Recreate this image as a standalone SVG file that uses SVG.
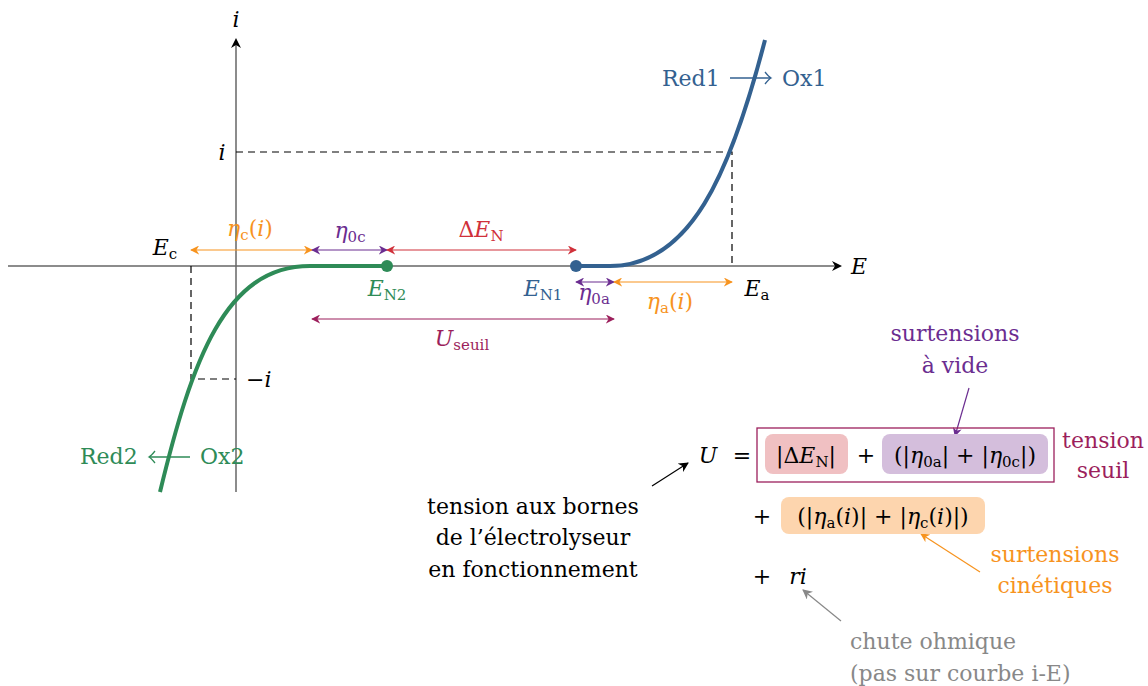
<svg xmlns="http://www.w3.org/2000/svg" width="1148" height="686" viewBox="0 0 1148 686">
<style>
.t{font-family:"DejaVu Serif","Liberation Serif",serif;font-size:22px}
.it{font-style:italic}
.sub{font-size:15px}
.axis{stroke:#666;stroke-width:1.5;fill:none}
.dash{stroke:#000;stroke-width:1.2;stroke-dasharray:7 5;fill:none}
.ann{stroke-width:1.2;fill:none}
</style>
<defs>
<marker id="mAx" viewBox="0 0 10 10" refX="8" refY="5" markerWidth="10" markerHeight="10" markerUnits="userSpaceOnUse" orient="auto-start-reverse"><path d="M0,0 L10,5 L0,10 L3,5 z" fill="#000"/></marker>
<marker id="mO" viewBox="0 0 10 10" refX="9" refY="5" markerWidth="9" markerHeight="9" markerUnits="userSpaceOnUse" orient="auto-start-reverse"><path d="M0,0 L10,5 L0,10 L3,5 z" fill="#f7931e"/></marker>
<marker id="mP" viewBox="0 0 10 10" refX="9" refY="5" markerWidth="9" markerHeight="9" markerUnits="userSpaceOnUse" orient="auto-start-reverse"><path d="M0,0 L10,5 L0,10 L3,5 z" fill="#6b2d90"/></marker>
<marker id="mR" viewBox="0 0 10 10" refX="9" refY="5" markerWidth="9" markerHeight="9" markerUnits="userSpaceOnUse" orient="auto-start-reverse"><path d="M0,0 L10,5 L0,10 L3,5 z" fill="#d0303a"/></marker>
<marker id="mM" viewBox="0 0 10 10" refX="9" refY="5" markerWidth="9" markerHeight="9" markerUnits="userSpaceOnUse" orient="auto-start-reverse"><path d="M0,0 L10,5 L0,10 L3,5 z" fill="#9c1f5c"/></marker>
<marker id="mK" viewBox="0 0 10 10" refX="9" refY="5" markerWidth="10" markerHeight="10" markerUnits="userSpaceOnUse" orient="auto-start-reverse"><path d="M0,0 L10,5 L0,10 L3,5 z" fill="#000"/></marker>
<marker id="mG" viewBox="0 0 10 10" refX="9" refY="5" markerWidth="10" markerHeight="10" markerUnits="userSpaceOnUse" orient="auto-start-reverse"><path d="M0,0 L10,5 L0,10 L3,5 z" fill="#888"/></marker>
</defs>

<g id="axes">
<line class="axis" x1="8" y1="266" x2="840" y2="266" marker-end="url(#mAx)"/>
<line class="axis" x1="236" y1="492" x2="236" y2="40" marker-end="url(#mAx)"/>
<text class="t it" x="236" y="27" text-anchor="middle">i</text>
<text class="t it" x="851" y="274">E</text>
</g>

<g id="guides">
<polyline class="dash" points="236,152 732,152 732,266"/>
<polyline class="dash" points="191,266 191,379 236,379"/>
<text class="t it" x="222" y="160" text-anchor="middle">i</text>
<text class="t" x="246" y="387">−<tspan class="it">i</tspan></text>
</g>

<g id="curve-cathode">
<path d="M160,492 C192,360 225,266 310,266 L387,266" fill="none" stroke="#2e8b57" stroke-width="4"/>
<circle cx="387" cy="266" r="6" fill="#2e8b57"/>
<text class="t" x="387" y="296" text-anchor="middle" fill="#2e8b57"><tspan class="it">E</tspan><tspan class="sub" dy="4">N2</tspan></text>
<text class="t" x="80" y="464" fill="#2e8b57">Red2</text>
<line x1="190" y1="457" x2="150" y2="457" stroke="#2e8b57" stroke-width="1.3"/>
<path d="M155,451 Q151,456 149,457 Q151,458 155,463" fill="none" stroke="#2e8b57" stroke-width="1.3"/>
<text class="t" x="200" y="464" fill="#2e8b57">Ox2</text>
</g>

<g id="curve-anode">
<path d="M576,266 L610,266 C690,266 730,175 765,40" fill="none" stroke="#336190" stroke-width="4"/>
<circle cx="576" cy="266" r="6" fill="#336190"/>
<text class="t" x="543" y="296" text-anchor="middle" fill="#336190"><tspan class="it">E</tspan><tspan class="sub" dy="4">N1</tspan></text>
<text class="t" x="662" y="86" fill="#336190">Red1</text>
<line x1="730" y1="78" x2="770" y2="78" stroke="#336190" stroke-width="1.3"/>
<path d="M765,72 Q769,77 771,78 Q769,79 765,84" fill="none" stroke="#336190" stroke-width="1.3"/>
<text class="t" x="782" y="86" fill="#336190">Ox1</text>
</g>

<g id="labels-E">
<text class="t" x="165" y="255" text-anchor="middle"><tspan class="it">E</tspan><tspan class="sub" dy="4">c</tspan></text>
<text class="t" x="757" y="296" text-anchor="middle"><tspan class="it">E</tspan><tspan class="sub" dy="4">a</tspan></text>
</g>

<g id="connectors">
<line class="ann" stroke="#f7931e" x1="191" y1="250" x2="312" y2="250" marker-start="url(#mO)" marker-end="url(#mO)"/>
<line class="ann" stroke="#6b2d90" x1="312" y1="250" x2="387" y2="250" marker-start="url(#mP)" marker-end="url(#mP)"/>
<line class="ann" stroke="#d0303a" x1="387" y1="250" x2="576" y2="250" marker-start="url(#mR)" marker-end="url(#mR)"/>
<line class="ann" stroke="#6b2d90" x1="576" y1="282" x2="614" y2="282" marker-start="url(#mP)" marker-end="url(#mP)"/>
<line class="ann" stroke="#f7931e" x1="614" y1="282" x2="732" y2="282" marker-start="url(#mO)" marker-end="url(#mO)"/>
<line class="ann" stroke="#9c1f5c" x1="312" y1="319" x2="614" y2="319" marker-start="url(#mM)" marker-end="url(#mM)"/>
<line class="ann" stroke="#000" x1="652" y1="486" x2="688" y2="463" marker-end="url(#mK)"/>
<line class="ann" stroke="#6b2d90" x1="969" y1="388" x2="955" y2="436" marker-end="url(#mP)"/>
<line class="ann" stroke="#f7931e" x1="980" y1="572" x2="921" y2="534" marker-end="url(#mO)"/>
<line class="ann" stroke="#888" x1="841" y1="621" x2="803" y2="590" marker-end="url(#mG)"/>
</g>

<g id="labels-eta">
<text class="t" x="250" y="236" text-anchor="middle" fill="#f7931e"><tspan class="it">η</tspan><tspan class="sub" dy="4">c</tspan><tspan dy="-4">(</tspan><tspan class="it">i</tspan>)</text>
<text class="t" x="350" y="238" text-anchor="middle" fill="#6b2d90"><tspan class="it">η</tspan><tspan class="sub" dy="4">0c</tspan></text>
<text class="t" x="481" y="237" text-anchor="middle" fill="#d0303a">Δ<tspan class="it">E</tspan><tspan class="sub" dy="4">N</tspan></text>
<text class="t" x="594" y="300" text-anchor="middle" fill="#6b2d90"><tspan class="it">η</tspan><tspan class="sub" dy="4">0a</tspan></text>
<text class="t" x="670" y="309" text-anchor="middle" fill="#f7931e"><tspan class="it">η</tspan><tspan class="sub" dy="4">a</tspan><tspan dy="-4">(</tspan><tspan class="it">i</tspan>)</text>
<text class="t" x="462" y="346" text-anchor="middle" fill="#9c1f5c"><tspan class="it">U</tspan><tspan class="sub" dy="4">seuil</tspan></text>
</g>

<g id="equation">
<text class="t it" x="708" y="463" text-anchor="middle">U</text>
<text class="t" x="742" y="463" text-anchor="middle">=</text>
<rect x="757" y="428" width="297" height="54" fill="none" stroke="#9c1f5c" stroke-width="1.3"/>
<rect x="765" y="434" width="83" height="40" rx="8" fill="#f0c0c2"/>
<text class="t" x="806" y="463" text-anchor="middle">|Δ<tspan class="it">E</tspan><tspan class="sub" dy="4">N</tspan><tspan dy="-4">|</tspan></text>
<text class="t" x="866" y="463" text-anchor="middle">+</text>
<rect x="882" y="434" width="166" height="40" rx="8" fill="#d4bedc"/>
<text class="t" x="965" y="463" text-anchor="middle">(|<tspan class="it">η</tspan><tspan class="sub" dy="4">0a</tspan><tspan dy="-4">| + |</tspan><tspan class="it">η</tspan><tspan class="sub" dy="4">0c</tspan><tspan dy="-4">|)</tspan></text>
<text class="t" x="762" y="524" text-anchor="middle">+</text>
<rect x="781" y="497" width="204" height="37" rx="8" fill="#fdd5ae"/>
<text class="t" x="883" y="524" text-anchor="middle">(|<tspan class="it">η</tspan><tspan class="sub" dy="4">a</tspan><tspan dy="-4">(</tspan><tspan class="it">i</tspan>)| + |<tspan class="it">η</tspan><tspan class="sub" dy="4">c</tspan><tspan dy="-4">(</tspan><tspan class="it">i</tspan>)|)</text>
<text class="t" x="762" y="584" text-anchor="middle">+</text>
<text class="t it" x="798" y="584" text-anchor="middle">ri</text>
</g>

<g id="notes">
<text class="t" x="1103" y="448" text-anchor="middle" fill="#9c1f5c">tension</text>
<text class="t" x="1103" y="478" text-anchor="middle" fill="#9c1f5c">seuil</text>
<text class="t" x="955" y="341" text-anchor="middle" fill="#6b2d90">surtensions</text>
<text class="t" x="955" y="373" text-anchor="middle" fill="#6b2d90">à vide</text>
<text class="t" x="1055" y="562" text-anchor="middle" fill="#f7931e">surtensions</text>
<text class="t" x="1055" y="593" text-anchor="middle" fill="#f7931e">cinétiques</text>
<text class="t" x="850" y="649" fill="#888">chute ohmique</text>
<text class="t" x="850" y="681" fill="#888">(pas sur courbe i-E)</text>
<text class="t" x="533" y="514" text-anchor="middle">tension aux bornes</text>
<text class="t" x="533" y="545" text-anchor="middle">de l’électrolyseur</text>
<text class="t" x="533" y="577" text-anchor="middle">en fonctionnement</text>
</g>
</svg>
